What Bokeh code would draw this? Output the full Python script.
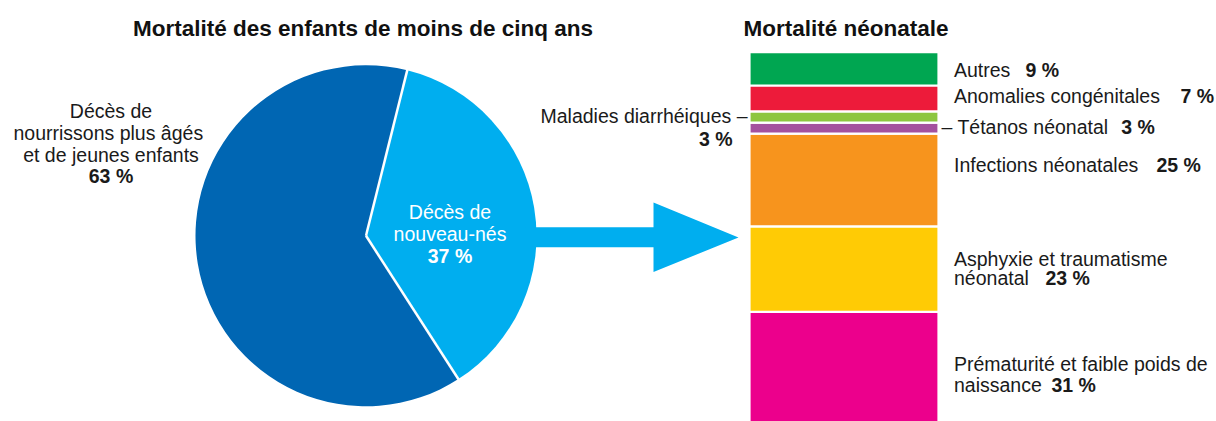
import math
from bokeh.plotting import figure
from bokeh.models import Range1d
from bokeh.core.properties import value
from bokeh.embed import file_html
from bokeh.resources import INLINE

# ---------------- data ----------------
pie_labels = [["Décès de", "nouveau-nés"],
              ["Décès de", "nourrissons  plus âgés", "et de jeunes enfants"]]
pie_values = [37, 63]
pie_colors = ["#00aeef", "#0066b3"]
pie_text_colors = ["white", "#1a1a1a"]

neo_causes = [["Prématurité et faible poids de", "naissance"],
              ["Asphyxie et traumatisme", "néonatal"],
              ["Infections néonatales"],
              ["– Tétanos néonatal"],
              ["Maladies diarrhéiques –"],
              ["Anomalies congénitales"],
              ["Autres"]]
neo_values = [31, 23, 25, 3, 3, 7, 9]
neo_colors = ["#ec008c", "#ffcb05", "#f7941d", "#a4519e", "#8dc63f", "#ed1b3a", "#00a651"]

title_left = "Mortalité des enfants de moins de cinq ans"
title_right = "Mortalité néonatale"

# ---------------- layout / style ----------------
W, H = 1216, 421
FONT = value("Liberation Sans")
TXT = "#1a1a1a"
FS = "19.5px"
TSHIFT = -6.0  # text vertical adjustment (pixels)

def Y(py):  # pixel-from-top -> data y
    return H - py

def TYP(py):
    return H - (py + TSHIFT)

p = figure(width=W, height=H, output_backend="svg", toolbar_location=None,
           x_range=Range1d(0, W), y_range=Range1d(0, H),
           min_border=0, min_border_left=0, min_border_right=0,
           min_border_top=0, min_border_bottom=0)
p.axis.visible = False
p.grid.visible = False
p.outline_line_color = None
p.background_fill_color = "white"
p.border_fill_color = "white"

# ---------------- pie ----------------
cx, cy, r = 365.5, Y(235.3), 170.5
top_angle = 76.0  # degrees (math convention) of first boundary
total = sum(pie_values)
cum = 0.0
bounds = []
for v, c in zip(pie_values, pie_colors):
    end = top_angle - cum / total * 360.0
    start = end - v / total * 360.0
    p.wedge(x=[cx], y=[cy], radius=r, start_angle=[math.radians(start)],
            end_angle=[math.radians(end)], direction="anticlock",
            fill_color=c, line_color=None)
    bounds.append(end)
    cum += v
# white separators
for a in bounds:
    p.segment(x0=[cx], y0=[cy], x1=[cx + (r + 2) * math.cos(math.radians(a))],
              y1=[cy + (r + 2) * math.sin(math.radians(a))],
              line_color="white", line_width=2.5)

# arrow
p.patch(x=[525, 653, 653, 738, 653, 653, 525],
        y=[Y(226.7), Y(226.7), Y(202), Y(237), Y(271.5), Y(246.7), Y(246.7)],
        fill_color="#00aeef", line_color=None)

# pie labels
nb_lines = pie_labels[0] + [f"{pie_values[0]} %"]
nb_y = [217.3, 239.3, 261.0]
for i, (t, yy) in enumerate(zip(nb_lines, nb_y)):
    p.text(x=[449.5], y=[TYP(yy)], text=[t], text_font=FONT, text_font_size=FS,
           text_color=pie_text_colors[0], text_align="center", text_baseline="alphabetic",
           text_font_style="bold" if i == len(nb_lines) - 1 else "normal")
ol_lines = pie_labels[1] + [f"{pie_values[1]} %"]
ol_y = [116.7, 138.5, 160.0, 181.0]
for i, (t, yy) in enumerate(zip(ol_lines, ol_y)):
    p.text(x=[110.5], y=[TYP(yy)], text=[t], text_font=FONT, text_font_size=FS,
           text_color=pie_text_colors[1], text_align="center", text_baseline="alphabetic",
           text_font_style="bold" if i == len(ol_lines) - 1 else "normal")

# ---------------- stacked bar ----------------
px_per_unit = 3.71
zero_px = 426.3
p.extra_y_ranges = {"bar": Range1d(start=(zero_px - H) / px_per_unit, end=zero_px / px_per_unit)}
bottoms, tops = [], []
acc = 0
for v in neo_values:
    bottoms.append(acc)
    acc += v
    tops.append(acc)
p.quad(left=749, right=938, bottom=bottoms, top=tops, fill_color=neo_colors,
       line_color="white", line_width=2.2, y_range_name="bar")

# bar labels: (x, baselines, bold x, align)
label_pos = [
    (953.5, [369.0, 390.7], 1051.0, "left"),
    (953.5, [264.0, 283.3], 1045.0, "left"),
    (953.5, [170.0], 1156.0, "left"),
    (941.0, [132.3], 1120.7, "left"),
    (747.0, [121.7], 732.0, "right"),
    (953.5, [101.0], 1180.0, "left"),
    (953.5, [75.7], 1025.0, "left"),
]
for lines, v, (lx, ys, bx, al) in zip(neo_causes, neo_values, label_pos):
    for t, yy in zip(lines, ys):
        p.text(x=[lx], y=[TYP(yy)], text=[t], text_font=FONT, text_font_size=FS,
               text_color=TXT, text_align=al, text_baseline="alphabetic")
    by = ys[-1] if al == "left" else 144.3
    p.text(x=[bx], y=[TYP(by)], text=[f"{v} %"], text_font=FONT, text_font_size=FS,
           text_color=TXT, text_align=al, text_baseline="alphabetic", text_font_style="bold")

# ---------------- titles ----------------
p.text(x=[362.5], y=[TYP(34)], text=[title_left], text_font=FONT, text_font_size="22.5px",
       text_color="#111111", text_align="center", text_baseline="alphabetic", text_font_style="bold")
p.text(x=[845.5], y=[TYP(34)], text=[title_right], text_font=FONT, text_font_size="22.5px",
       text_color="#111111", text_align="center", text_baseline="alphabetic", text_font_style="bold")

open("out.html", "w").write(file_html(p, INLINE))
